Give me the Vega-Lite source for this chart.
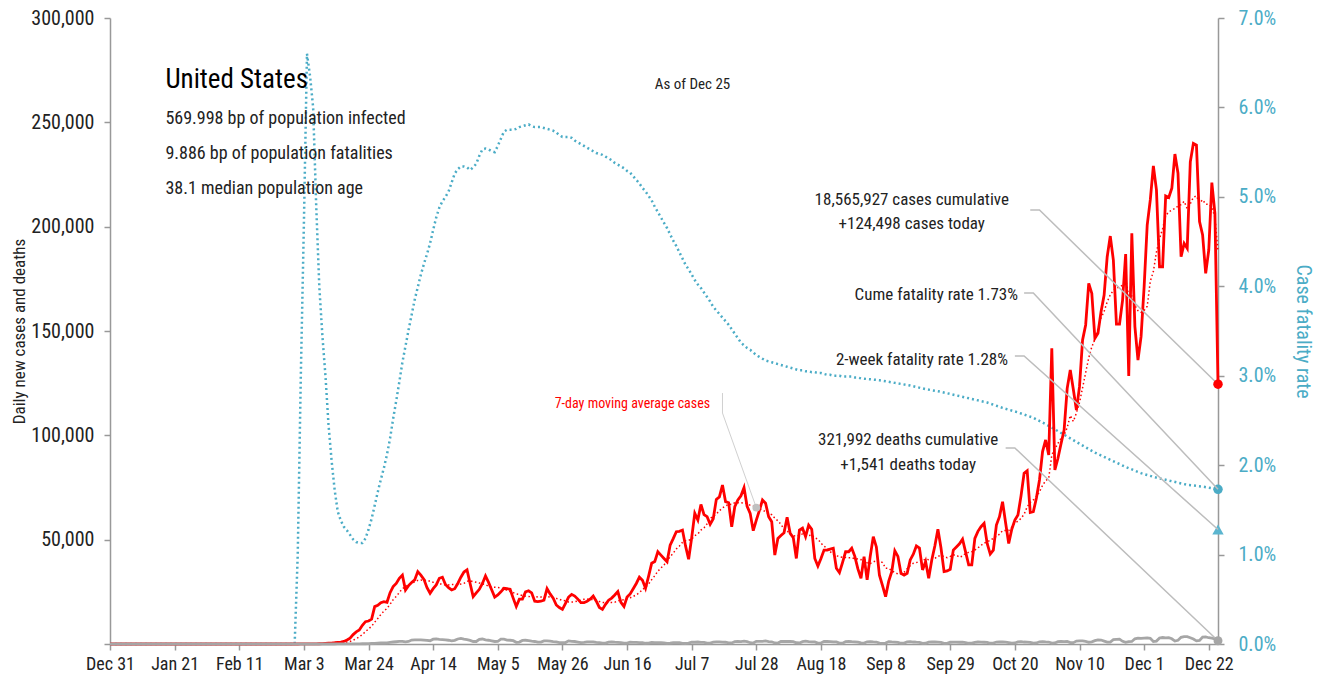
{
"$schema":"https://vega.github.io/schema/vega-lite/v6.json",
"width":1108,"height":626,
"autosize":{"type":"none"},
"padding":{"left":110,"top":18,"right":105,"bottom":38},
"background":"white",
"config":{"view":{"stroke":null},"font":"Roboto Condensed, Liberation Sans Narrow, DejaVu Sans Condensed, sans-serif","axis":{"grid":false}},
"datasets":{
"daily":[
{"date":"2019-12-31","cases":0,"avg":0,"deaths":0},
{"date":"2020-01-21","cases":0,"avg":0,"deaths":0},
{"date":"2020-02-11","cases":0,"avg":0,"deaths":0},
{"date":"2020-02-29","cases":0,"avg":0,"deaths":0},
{"date":"2020-03-01","cases":10,"avg":1,"deaths":0},
{"date":"2020-03-02","cases":20,"avg":4,"deaths":1},
{"date":"2020-03-03","cases":25,"avg":8,"deaths":2},
{"date":"2020-03-04","cases":35,"avg":13,"deaths":2},
{"date":"2020-03-05","cases":60,"avg":21,"deaths":3},
{"date":"2020-03-06","cases":70,"avg":31,"deaths":4},
{"date":"2020-03-07","cases":100,"avg":46,"deaths":2},
{"date":"2020-03-08","cases":120,"avg":61,"deaths":3},
{"date":"2020-03-09","cases":150,"avg":80,"deaths":5},
{"date":"2020-03-10","cases":270,"avg":115,"deaths":8},
{"date":"2020-03-11","cases":400,"avg":167,"deaths":8},
{"date":"2020-03-12","cases":450,"avg":223,"deaths":10},
{"date":"2020-03-13","cases":600,"avg":299,"deaths":12},
{"date":"2020-03-14","cases":800,"avg":399,"deaths":15},
{"date":"2020-03-15","cases":900,"avg":510,"deaths":15},
{"date":"2020-03-16","cases":1200,"avg":660,"deaths":20},
{"date":"2020-03-17","cases":1900,"avg":893,"deaths":25},
{"date":"2020-03-18","cases":2800,"avg":1236,"deaths":40},
{"date":"2020-03-19","cases":4500,"avg":1814,"deaths":60},
{"date":"2020-03-20","cases":5800,"avg":2557,"deaths":50},
{"date":"2020-03-21","cases":6700,"avg":3400,"deaths":60},
{"date":"2020-03-22","cases":9000,"avg":4557,"deaths":120},
{"date":"2020-03-23","cases":10700,"avg":5914,"deaths":130},
{"date":"2020-03-24","cases":11000,"avg":7214,"deaths":190},
{"date":"2020-03-25","cases":11900,"avg":8514,"deaths":250},
{"date":"2020-03-26","cases":17900,"avg":10429,"deaths":270},
{"date":"2020-03-27","cases":18500,"avg":12243,"deaths":400},
{"date":"2020-03-28","cases":19800,"avg":14114,"deaths":520},
{"date":"2020-03-29","cases":20300,"avg":15729,"deaths":480},
{"date":"2020-03-30","cases":20000,"avg":17057,"deaths":560},
{"date":"2020-03-31","cases":24600,"avg":19000,"deaths":790},
{"date":"2020-04-01","cases":27500,"avg":21229,"deaths":960},
{"date":"2020-04-02","cases":29000,"avg":22814,"deaths":1080},
{"date":"2020-04-03","cases":31500,"avg":24671,"deaths":1220},
{"date":"2020-04-04","cases":33000,"avg":26557,"deaths":1290},
{"date":"2020-04-05","cases":25900,"avg":27357,"deaths":1050},
{"date":"2020-04-06","cases":28000,"avg":28500,"deaths":1210},
{"date":"2020-04-07","cases":29500,"avg":29200,"deaths":1900},
{"date":"2020-04-08","cases":30700,"avg":29657,"deaths":1940},
{"date":"2020-04-09","cases":34700,"avg":30471,"deaths":2000},
{"date":"2020-04-10","cases":33000,"avg":30686,"deaths":2000},
{"date":"2020-04-11","cases":31000,"avg":30400,"deaths":1850},
{"date":"2020-04-12","cases":27000,"avg":30557,"deaths":1700},
{"date":"2020-04-13","cases":24300,"avg":30029,"deaths":1550},
{"date":"2020-04-14","cases":26500,"avg":29600,"deaths":2300},
{"date":"2020-04-15","cases":28300,"avg":29257,"deaths":2450},
{"date":"2020-04-16","cases":31500,"avg":28800,"deaths":2200},
{"date":"2020-04-17","cases":32000,"avg":28657,"deaths":2100},
{"date":"2020-04-18","cases":28500,"avg":28300,"deaths":2000},
{"date":"2020-04-19","cases":27000,"avg":28300,"deaths":1800},
{"date":"2020-04-20","cases":25900,"avg":28529,"deaths":1550},
{"date":"2020-04-21","cases":26500,"avg":28529,"deaths":1750},
{"date":"2020-04-22","cases":29000,"avg":28629,"deaths":2400},
{"date":"2020-04-23","cases":32000,"avg":28700,"deaths":2700},
{"date":"2020-04-24","cases":34500,"avg":29057,"deaths":2300},
{"date":"2020-04-25","cases":35500,"avg":30057,"deaths":2100},
{"date":"2020-04-26","cases":29000,"avg":30343,"deaths":1750},
{"date":"2020-04-27","cases":22700,"avg":29886,"deaths":1200},
{"date":"2020-04-28","cases":24500,"avg":29600,"deaths":1200},
{"date":"2020-04-29","cases":26200,"avg":29200,"deaths":2200},
{"date":"2020-04-30","cases":29000,"avg":28771,"deaths":2400},
{"date":"2020-05-01","cases":32600,"avg":28500,"deaths":2000},
{"date":"2020-05-02","cases":29500,"avg":27643,"deaths":1800},
{"date":"2020-05-03","cases":26000,"avg":27214,"deaths":1500},
{"date":"2020-05-04","cases":22500,"avg":27186,"deaths":1200},
{"date":"2020-05-05","cases":23500,"avg":27043,"deaths":1300},
{"date":"2020-05-06","cases":25000,"avg":26871,"deaths":2300},
{"date":"2020-05-07","cases":26700,"avg":26543,"deaths":2300},
{"date":"2020-05-08","cases":26500,"avg":25671,"deaths":1900},
{"date":"2020-05-09","cases":26200,"avg":25200,"deaths":1800},
{"date":"2020-05-10","cases":22000,"avg":24629,"deaths":1600},
{"date":"2020-05-11","cases":18000,"avg":23986,"deaths":800},
{"date":"2020-05-12","cases":21500,"avg":23700,"deaths":950},
{"date":"2020-05-13","cases":21500,"avg":23200,"deaths":1700},
{"date":"2020-05-14","cases":25000,"avg":22957,"deaths":1800},
{"date":"2020-05-15","cases":25500,"avg":22814,"deaths":1650},
{"date":"2020-05-16","cases":24500,"avg":22571,"deaths":1400},
{"date":"2020-05-17","cases":20500,"avg":22357,"deaths":1200},
{"date":"2020-05-18","cases":20300,"avg":22686,"deaths":900},
{"date":"2020-05-19","cases":20500,"avg":22543,"deaths":900},
{"date":"2020-05-20","cases":21000,"avg":22471,"deaths":1500},
{"date":"2020-05-21","cases":26500,"avg":22686,"deaths":1500},
{"date":"2020-05-22","cases":24000,"avg":22471,"deaths":1350},
{"date":"2020-05-23","cases":22000,"avg":22114,"deaths":1150},
{"date":"2020-05-24","cases":18700,"avg":21857,"deaths":1050},
{"date":"2020-05-25","cases":17500,"avg":21457,"deaths":700},
{"date":"2020-05-26","cases":16600,"avg":20900,"deaths":600},
{"date":"2020-05-27","cases":19500,"avg":20686,"deaths":700},
{"date":"2020-05-28","cases":22500,"avg":20114,"deaths":1500},
{"date":"2020-05-29","cases":23800,"avg":20086,"deaths":1250},
{"date":"2020-05-30","cases":23000,"avg":20229,"deaths":1200},
{"date":"2020-05-31","cases":21500,"avg":20629,"deaths":950},
{"date":"2020-06-01","cases":19800,"avg":20957,"deaths":700},
{"date":"2020-06-02","cases":19800,"avg":21414,"deaths":800},
{"date":"2020-06-03","cases":20500,"avg":21557,"deaths":1000},
{"date":"2020-06-04","cases":21500,"avg":21414,"deaths":1050},
{"date":"2020-06-05","cases":23000,"avg":21300,"deaths":1000},
{"date":"2020-06-06","cases":20500,"avg":20943,"deaths":800},
{"date":"2020-06-07","cases":17500,"avg":20371,"deaths":700},
{"date":"2020-06-08","cases":16600,"avg":19914,"deaths":400},
{"date":"2020-06-09","cases":19000,"avg":19800,"deaths":450},
{"date":"2020-06-10","cases":21000,"avg":19871,"deaths":900},
{"date":"2020-06-11","cases":22000,"avg":19943,"deaths":1000},
{"date":"2020-06-12","cases":23500,"avg":20014,"deaths":850},
{"date":"2020-06-13","cases":25100,"avg":20671,"deaths":750},
{"date":"2020-06-14","cases":20000,"avg":21029,"deaths":650},
{"date":"2020-06-15","cases":18000,"avg":21229,"deaths":400},
{"date":"2020-06-16","cases":22500,"avg":21729,"deaths":450},
{"date":"2020-06-17","cases":24000,"avg":22157,"deaths":850},
{"date":"2020-06-18","cases":26500,"avg":22800,"deaths":800},
{"date":"2020-06-19","cases":29000,"avg":23586,"deaths":750},
{"date":"2020-06-20","cases":32000,"avg":24571,"deaths":650},
{"date":"2020-06-21","cases":30500,"avg":26071,"deaths":600},
{"date":"2020-06-22","cases":26700,"avg":27314,"deaths":350},
{"date":"2020-06-23","cases":32500,"avg":28743,"deaths":450},
{"date":"2020-06-24","cases":38700,"avg":30843,"deaths":800},
{"date":"2020-06-25","cases":39500,"avg":32700,"deaths":700},
{"date":"2020-06-26","cases":44200,"avg":34871,"deaths":650},
{"date":"2020-06-27","cases":42600,"avg":36386,"deaths":600},
{"date":"2020-06-28","cases":41000,"avg":37886,"deaths":500},
{"date":"2020-06-29","cases":39400,"avg":39700,"deaths":300},
{"date":"2020-06-30","cases":47400,"avg":41829,"deaths":400},
{"date":"2020-07-01","cases":50500,"avg":43514,"deaths":700},
{"date":"2020-07-02","cases":53800,"avg":45557,"deaths":700},
{"date":"2020-07-03","cases":54000,"avg":46957,"deaths":650},
{"date":"2020-07-04","cases":54600,"avg":48671,"deaths":300},
{"date":"2020-07-05","cases":47000,"avg":49529,"deaths":250},
{"date":"2020-07-06","cases":40600,"avg":49700,"deaths":400},
{"date":"2020-07-07","cases":51000,"avg":50214,"deaths":900},
{"date":"2020-07-08","cases":62600,"avg":51943,"deaths":850},
{"date":"2020-07-09","cases":59400,"avg":52743,"deaths":950},
{"date":"2020-07-10","cases":66900,"avg":54586,"deaths":800},
{"date":"2020-07-11","cases":62000,"avg":55643,"deaths":750},
{"date":"2020-07-12","cases":61000,"avg":57643,"deaths":450},
{"date":"2020-07-13","cases":57400,"avg":60043,"deaths":450},
{"date":"2020-07-14","cases":60000,"avg":61329,"deaths":900},
{"date":"2020-07-15","cases":69300,"avg":62286,"deaths":1000},
{"date":"2020-07-16","cases":70500,"avg":63871,"deaths":1000},
{"date":"2020-07-17","cases":76200,"avg":65200,"deaths":900},
{"date":"2020-07-18","cases":68200,"avg":66086,"deaths":850},
{"date":"2020-07-19","cases":67700,"avg":67043,"deaths":550},
{"date":"2020-07-20","cases":56200,"avg":66871,"deaths":500},
{"date":"2020-07-21","cases":65800,"avg":67700,"deaths":1100},
{"date":"2020-07-22","cases":69000,"avg":67657,"deaths":1200},
{"date":"2020-07-23","cases":71000,"avg":67729,"deaths":1150},
{"date":"2020-07-24","cases":74900,"avg":67543,"deaths":1350},
{"date":"2020-07-25","cases":66000,"avg":67229,"deaths":1100},
{"date":"2020-07-26","cases":62600,"avg":66500,"deaths":600},
{"date":"2020-07-27","cases":54300,"avg":66229,"deaths":450},
{"date":"2020-07-28","cases":59400,"avg":65314,"deaths":1300},
{"date":"2020-07-29","cases":64000,"avg":64600,"deaths":1300},
{"date":"2020-07-30","cases":69000,"avg":64314,"deaths":1250},
{"date":"2020-07-31","cases":67500,"avg":63257,"deaths":1450},
{"date":"2020-08-01","cases":61000,"avg":62543,"deaths":1150},
{"date":"2020-08-02","cases":58600,"avg":61971,"deaths":1050},
{"date":"2020-08-03","cases":42600,"avg":60300,"deaths":500},
{"date":"2020-08-04","cases":50600,"avg":59043,"deaths":450},
{"date":"2020-08-05","cases":52000,"avg":57329,"deaths":1200},
{"date":"2020-08-06","cases":53300,"avg":55086,"deaths":1300},
{"date":"2020-08-07","cases":60700,"avg":54114,"deaths":1200},
{"date":"2020-08-08","cases":53000,"avg":52971,"deaths":1250},
{"date":"2020-08-09","cases":51000,"avg":51886,"deaths":1100},
{"date":"2020-08-10","cases":41000,"avg":51657,"deaths":600},
{"date":"2020-08-11","cases":54600,"avg":52229,"deaths":500},
{"date":"2020-08-12","cases":55500,"avg":52729,"deaths":1100},
{"date":"2020-08-13","cases":51500,"avg":52471,"deaths":1350},
{"date":"2020-08-14","cases":57000,"avg":51943,"deaths":1100},
{"date":"2020-08-15","cases":55000,"avg":52229,"deaths":1050},
{"date":"2020-08-16","cases":41000,"avg":50800,"deaths":1000},
{"date":"2020-08-17","cases":37400,"avg":50286,"deaths":450},
{"date":"2020-08-18","cases":41000,"avg":48343,"deaths":500},
{"date":"2020-08-19","cases":45000,"avg":46843,"deaths":1200},
{"date":"2020-08-20","cases":45000,"avg":45914,"deaths":1250},
{"date":"2020-08-21","cases":45500,"avg":44271,"deaths":1150},
{"date":"2020-08-22","cases":45900,"avg":42971,"deaths":1050},
{"date":"2020-08-23","cases":36300,"avg":42300,"deaths":1000},
{"date":"2020-08-24","cases":34200,"avg":41843,"deaths":450},
{"date":"2020-08-25","cases":39000,"avg":41557,"deaths":400},
{"date":"2020-08-26","cases":44200,"avg":41443,"deaths":1100},
{"date":"2020-08-27","cases":44200,"avg":41329,"deaths":1250},
{"date":"2020-08-28","cases":45900,"avg":41386,"deaths":1100},
{"date":"2020-08-29","cases":42000,"avg":40829,"deaths":1000},
{"date":"2020-08-30","cases":36000,"avg":40786,"deaths":900},
{"date":"2020-08-31","cases":31500,"avg":40400,"deaths":500},
{"date":"2020-09-01","cases":41800,"avg":40800,"deaths":450},
{"date":"2020-09-02","cases":30700,"avg":38871,"deaths":1050},
{"date":"2020-09-03","cases":42000,"avg":38557,"deaths":1100},
{"date":"2020-09-04","cases":51400,"avg":39343,"deaths":1000},
{"date":"2020-09-05","cases":46500,"avg":39986,"deaths":950},
{"date":"2020-09-06","cases":33000,"avg":39557,"deaths":400},
{"date":"2020-09-07","cases":28000,"avg":39057,"deaths":300},
{"date":"2020-09-08","cases":22700,"avg":36329,"deaths":450},
{"date":"2020-09-09","cases":30000,"avg":36229,"deaths":1150},
{"date":"2020-09-10","cases":34700,"avg":35186,"deaths":1000},
{"date":"2020-09-11","cases":44700,"avg":34229,"deaths":900},
{"date":"2020-09-12","cases":42000,"avg":33586,"deaths":750},
{"date":"2020-09-13","cases":33900,"avg":33714,"deaths":350},
{"date":"2020-09-14","cases":33000,"avg":34429,"deaths":450},
{"date":"2020-09-15","cases":33900,"avg":36029,"deaths":1000},
{"date":"2020-09-16","cases":40300,"avg":37500,"deaths":1100},
{"date":"2020-09-17","cases":43000,"avg":38686,"deaths":950},
{"date":"2020-09-18","cases":47000,"avg":39014,"deaths":850},
{"date":"2020-09-19","cases":46000,"avg":39586,"deaths":800},
{"date":"2020-09-20","cases":35500,"avg":39814,"deaths":300},
{"date":"2020-09-21","cases":39500,"avg":40743,"deaths":350},
{"date":"2020-09-22","cases":31500,"avg":40400,"deaths":900},
{"date":"2020-09-23","cases":40300,"avg":40400,"deaths":1000},
{"date":"2020-09-24","cases":47000,"avg":40971,"deaths":950},
{"date":"2020-09-25","cases":55000,"avg":42114,"deaths":900},
{"date":"2020-09-26","cases":46000,"avg":42114,"deaths":750},
{"date":"2020-09-27","cases":34700,"avg":42000,"deaths":300},
{"date":"2020-09-28","cases":35000,"avg":41357,"deaths":300},
{"date":"2020-09-29","cases":35800,"avg":41971,"deaths":850},
{"date":"2020-09-30","cases":45000,"avg":42643,"deaths":900},
{"date":"2020-10-01","cases":46500,"avg":42571,"deaths":900},
{"date":"2020-10-02","cases":48000,"avg":41571,"deaths":850},
{"date":"2020-10-03","cases":50200,"avg":42171,"deaths":850},
{"date":"2020-10-04","cases":44000,"avg":43500,"deaths":700},
{"date":"2020-10-05","cases":37900,"avg":43914,"deaths":350},
{"date":"2020-10-06","cases":37900,"avg":44214,"deaths":400},
{"date":"2020-10-07","cases":50600,"avg":45014,"deaths":800},
{"date":"2020-10-08","cases":54000,"avg":46086,"deaths":950},
{"date":"2020-10-09","cases":56200,"avg":47257,"deaths":900},
{"date":"2020-10-10","cases":57800,"avg":48343,"deaths":850},
{"date":"2020-10-11","cases":48200,"avg":48943,"deaths":750},
{"date":"2020-10-12","cases":43100,"avg":49686,"deaths":350},
{"date":"2020-10-13","cases":45000,"avg":50700,"deaths":450},
{"date":"2020-10-14","cases":57000,"avg":51614,"deaths":950},
{"date":"2020-10-15","cases":61000,"avg":52614,"deaths":1000},
{"date":"2020-10-16","cases":68200,"avg":54329,"deaths":950},
{"date":"2020-10-17","cases":58000,"avg":54357,"deaths":850},
{"date":"2020-10-18","cases":48200,"avg":54357,"deaths":650},
{"date":"2020-10-19","cases":55000,"avg":56057,"deaths":450},
{"date":"2020-10-20","cases":59400,"avg":58114,"deaths":500},
{"date":"2020-10-21","cases":61800,"avg":58800,"deaths":1000},
{"date":"2020-10-22","cases":71000,"avg":60229,"deaths":1100},
{"date":"2020-10-23","cases":81800,"avg":62171,"deaths":950},
{"date":"2020-10-24","cases":83000,"avg":65743,"deaths":900},
{"date":"2020-10-25","cases":63000,"avg":67857,"deaths":800},
{"date":"2020-10-26","cases":63400,"avg":69057,"deaths":400},
{"date":"2020-10-27","cases":70000,"avg":70571,"deaths":500},
{"date":"2020-10-28","cases":78600,"avg":72971,"deaths":1050},
{"date":"2020-10-29","cases":92200,"avg":76000,"deaths":1100},
{"date":"2020-10-30","cases":97800,"avg":78286,"deaths":1000},
{"date":"2020-10-31","cases":90600,"avg":79371,"deaths":950},
{"date":"2020-11-01","cases":141700,"avg":90614,"deaths":450},
{"date":"2020-11-02","cases":83400,"avg":93471,"deaths":500},
{"date":"2020-11-03","cases":89000,"avg":96186,"deaths":1150},
{"date":"2020-11-04","cases":96000,"avg":98671,"deaths":1200},
{"date":"2020-11-05","cases":102500,"avg":100143,"deaths":1150},
{"date":"2020-11-06","cases":122500,"avg":103671,"deaths":1250},
{"date":"2020-11-07","cases":131300,"avg":109486,"deaths":700},
{"date":"2020-11-08","cases":122000,"avg":106671,"deaths":650},
{"date":"2020-11-09","cases":112100,"avg":110771,"deaths":1400},
{"date":"2020-11-10","cases":123300,"avg":115671,"deaths":1450},
{"date":"2020-11-11","cases":145700,"avg":122771,"deaths":1450},
{"date":"2020-11-12","cases":152900,"avg":129971,"deaths":1300},
{"date":"2020-11-13","cases":172800,"avg":137157,"deaths":850},
{"date":"2020-11-14","cases":168000,"avg":142400,"deaths":1000},
{"date":"2020-11-15","cases":146500,"avg":145900,"deaths":1600},
{"date":"2020-11-16","cases":148900,"avg":151157,"deaths":2000},
{"date":"2020-11-17","cases":159200,"avg":156286,"deaths":1900},
{"date":"2020-11-18","cases":167200,"avg":159357,"deaths":1400},
{"date":"2020-11-19","cases":185600,"avg":164029,"deaths":900},
{"date":"2020-11-20","cases":195500,"avg":167271,"deaths":950},
{"date":"2020-11-21","cases":184000,"avg":169557,"deaths":2100},
{"date":"2020-11-22","cases":153300,"avg":170529,"deaths":2200},
{"date":"2020-11-23","cases":153300,"avg":171157,"deaths":2300},
{"date":"2020-11-24","cases":164800,"avg":171957,"deaths":1300},
{"date":"2020-11-25","cases":186900,"avg":174771,"deaths":800},
{"date":"2020-11-26","cases":128400,"avg":166600,"deaths":1100},
{"date":"2020-11-27","cases":196800,"avg":166786,"deaths":1200},
{"date":"2020-11-28","cases":152100,"avg":162229,"deaths":2500},
{"date":"2020-11-29","cases":136100,"avg":159771,"deaths":2800},
{"date":"2020-11-30","cases":147300,"avg":158914,"deaths":2700},
{"date":"2020-12-01","cases":171200,"avg":159829,"deaths":2800},
{"date":"2020-12-02","cases":200800,"avg":161814,"deaths":2900},
{"date":"2020-12-03","cases":212800,"avg":173871,"deaths":2700},
{"date":"2020-12-04","cases":229100,"avg":178486,"deaths":1200},
{"date":"2020-12-05","cases":217600,"avg":187843,"deaths":1400},
{"date":"2020-12-06","cases":180800,"avg":194229,"deaths":2900},
{"date":"2020-12-07","cases":180800,"avg":199014,"deaths":3100},
{"date":"2020-12-08","cases":214700,"avg":205229,"deaths":2900},
{"date":"2020-12-09","cases":214000,"avg":207114,"deaths":3000},
{"date":"2020-12-10","cases":218400,"avg":207914,"deaths":2500},
{"date":"2020-12-11","cases":234800,"avg":208729,"deaths":1400},
{"date":"2020-12-12","cases":225600,"avg":209871,"deaths":1800},
{"date":"2020-12-13","cases":185600,"avg":210557,"deaths":3200},
{"date":"2020-12-14","cases":192000,"avg":212157,"deaths":3500},
{"date":"2020-12-15","cases":189600,"avg":208571,"deaths":3500},
{"date":"2020-12-16","cases":231100,"avg":211014,"deaths":3000},
{"date":"2020-12-17","cases":239900,"avg":214086,"deaths":2400},
{"date":"2020-12-18","cases":239100,"avg":214700,"deaths":1500},
{"date":"2020-12-19","cases":202400,"avg":211386,"deaths":1700},
{"date":"2020-12-20","cases":196000,"avg":212871,"deaths":3300},
{"date":"2020-12-21","cases":177600,"avg":210814,"deaths":3400},
{"date":"2020-12-22","cases":188800,"avg":210700,"deaths":3000},
{"date":"2020-12-23","cases":221100,"avg":209271,"deaths":2800},
{"date":"2020-12-24","cases":206400,"avg":204486,"deaths":2500},
{"date":"2020-12-25","cases":124498,"avg":188114,"deaths":1541}
],
"cfr":[
{"date":"2019-12-31","rate":0},{"date":"2020-02-29","rate":0},
{"date":"2020-03-01","rate":0.010},{"date":"2020-03-02","rate":0.030},{"date":"2020-03-03","rate":0.047},{"date":"2020-03-04","rate":0.066},{"date":"2020-03-05","rate":0.0635},{"date":"2020-03-06","rate":0.060},{"date":"2020-03-07","rate":0.049},{"date":"2020-03-08","rate":0.040},{"date":"2020-03-09","rate":0.0345},{"date":"2020-03-10","rate":0.030},
{"date":"2020-03-11","rate":0.0245},{"date":"2020-03-12","rate":0.0205},{"date":"2020-03-13","rate":0.0172},{"date":"2020-03-14","rate":0.0148},{"date":"2020-03-15","rate":0.0138},{"date":"2020-03-16","rate":0.0131},{"date":"2020-03-17","rate":0.0127},{"date":"2020-03-18","rate":0.0122},{"date":"2020-03-19","rate":0.0117},{"date":"2020-03-20","rate":0.0114},
{"date":"2020-03-21","rate":0.0113},{"date":"2020-03-22","rate":0.0113},{"date":"2020-03-23","rate":0.0118},{"date":"2020-03-24","rate":0.0128},{"date":"2020-03-25","rate":0.0140},{"date":"2020-03-26","rate":0.0155},{"date":"2020-03-27","rate":0.0170},{"date":"2020-03-28","rate":0.0184},{"date":"2020-03-29","rate":0.0197},{"date":"2020-03-30","rate":0.0212},{"date":"2020-03-31","rate":0.0230},
{"date":"2020-04-01","rate":0.0252},{"date":"2020-04-02","rate":0.0272},{"date":"2020-04-03","rate":0.0293},{"date":"2020-04-04","rate":0.0315},{"date":"2020-04-05","rate":0.0333},{"date":"2020-04-06","rate":0.0351},{"date":"2020-04-07","rate":0.0368},{"date":"2020-04-08","rate":0.0385},{"date":"2020-04-09","rate":0.0399},{"date":"2020-04-10","rate":0.0413},
{"date":"2020-04-11","rate":0.0425},{"date":"2020-04-12","rate":0.0436},{"date":"2020-04-13","rate":0.0448},{"date":"2020-04-14","rate":0.0463},{"date":"2020-04-15","rate":0.0477},{"date":"2020-04-16","rate":0.0488},{"date":"2020-04-17","rate":0.0495},{"date":"2020-04-18","rate":0.0500},{"date":"2020-04-19","rate":0.0506},{"date":"2020-04-20","rate":0.0516},
{"date":"2020-04-21","rate":0.0526},{"date":"2020-04-22","rate":0.0531},{"date":"2020-04-23","rate":0.0534},{"date":"2020-04-24","rate":0.0534},{"date":"2020-04-25","rate":0.0533},{"date":"2020-04-26","rate":0.0530},{"date":"2020-04-27","rate":0.0533},{"date":"2020-04-28","rate":0.0537},{"date":"2020-04-29","rate":0.0546},{"date":"2020-04-30","rate":0.0553},
{"date":"2020-05-01","rate":0.0554},{"date":"2020-05-02","rate":0.0553},{"date":"2020-05-03","rate":0.0551},{"date":"2020-05-04","rate":0.0550},{"date":"2020-05-05","rate":0.0557},{"date":"2020-05-06","rate":0.0565},{"date":"2020-05-07","rate":0.0573},{"date":"2020-05-08","rate":0.0575},{"date":"2020-05-09","rate":0.0575},{"date":"2020-05-10","rate":0.0575},
{"date":"2020-05-11","rate":0.0576},{"date":"2020-05-12","rate":0.0578},{"date":"2020-05-13","rate":0.0579},{"date":"2020-05-14","rate":0.0580},{"date":"2020-05-15","rate":0.0581},{"date":"2020-05-16","rate":0.0579},{"date":"2020-05-17","rate":0.0578},{"date":"2020-05-18","rate":0.0578},{"date":"2020-05-19","rate":0.0578},{"date":"2020-05-20","rate":0.0577},
{"date":"2020-05-21","rate":0.0576},{"date":"2020-05-22","rate":0.0575},{"date":"2020-05-23","rate":0.0574},{"date":"2020-05-24","rate":0.0572},{"date":"2020-05-25","rate":0.0569},{"date":"2020-05-26","rate":0.0567},{"date":"2020-05-27","rate":0.0567},{"date":"2020-05-28","rate":0.0567},{"date":"2020-05-29","rate":0.0566},{"date":"2020-05-30","rate":0.0563},{"date":"2020-05-31","rate":0.0561},
{"date":"2020-06-01","rate":0.0559},{"date":"2020-06-02","rate":0.0557},{"date":"2020-06-03","rate":0.0555},{"date":"2020-06-04","rate":0.0553},{"date":"2020-06-05","rate":0.0551},{"date":"2020-06-06","rate":0.0549},{"date":"2020-06-07","rate":0.0548},{"date":"2020-06-08","rate":0.0547},{"date":"2020-06-09","rate":0.0545},{"date":"2020-06-10","rate":0.0543},
{"date":"2020-06-11","rate":0.0541},{"date":"2020-06-12","rate":0.0538},{"date":"2020-06-13","rate":0.0536},{"date":"2020-06-14","rate":0.0534},{"date":"2020-06-15","rate":0.0532},{"date":"2020-06-16","rate":0.0529},{"date":"2020-06-17","rate":0.0527},{"date":"2020-06-18","rate":0.0523},{"date":"2020-06-19","rate":0.0519},{"date":"2020-06-20","rate":0.0515},
{"date":"2020-06-21","rate":0.0510},{"date":"2020-06-22","rate":0.0506},{"date":"2020-06-23","rate":0.0501},{"date":"2020-06-24","rate":0.0496},{"date":"2020-06-25","rate":0.0489},{"date":"2020-06-26","rate":0.0483},{"date":"2020-06-27","rate":0.0477},{"date":"2020-06-28","rate":0.0471},{"date":"2020-06-29","rate":0.0465},{"date":"2020-06-30","rate":0.0458},
{"date":"2020-07-01","rate":0.0451},{"date":"2020-07-02","rate":0.0445},{"date":"2020-07-03","rate":0.0438},{"date":"2020-07-04","rate":0.0431},{"date":"2020-07-05","rate":0.0424},{"date":"2020-07-06","rate":0.0419},{"date":"2020-07-07","rate":0.0413},{"date":"2020-07-08","rate":0.0407},{"date":"2020-07-09","rate":0.0402},{"date":"2020-07-10","rate":0.0398},
{"date":"2020-07-11","rate":0.0393},{"date":"2020-07-12","rate":0.0388},{"date":"2020-07-13","rate":0.0383},{"date":"2020-07-14","rate":0.0377},{"date":"2020-07-15","rate":0.0373},{"date":"2020-07-16","rate":0.0369},{"date":"2020-07-17","rate":0.0365},{"date":"2020-07-18","rate":0.0361},{"date":"2020-07-19","rate":0.0357},{"date":"2020-07-20","rate":0.0352},
{"date":"2020-07-21","rate":0.0347},{"date":"2020-07-22","rate":0.0342},{"date":"2020-07-23","rate":0.0337},{"date":"2020-07-24","rate":0.0334},{"date":"2020-07-25","rate":0.0331},{"date":"2020-07-26","rate":0.0329},{"date":"2020-07-27","rate":0.0326},{"date":"2020-07-28","rate":0.0323},{"date":"2020-07-29","rate":0.0321},{"date":"2020-07-30","rate":0.0319},{"date":"2020-07-31","rate":0.0317},
{"date":"2020-08-01","rate":0.0316},{"date":"2020-08-02","rate":0.0315},{"date":"2020-08-03","rate":0.0314},{"date":"2020-08-04","rate":0.0313},{"date":"2020-08-05","rate":0.0312},{"date":"2020-08-06","rate":0.0311},{"date":"2020-08-07","rate":0.0310},{"date":"2020-08-08","rate":0.0309},{"date":"2020-08-09","rate":0.0308},{"date":"2020-08-10","rate":0.0307},
{"date":"2020-08-11","rate":0.0306},{"date":"2020-08-12","rate":0.0306},{"date":"2020-08-13","rate":0.0305},{"date":"2020-08-14","rate":0.0305},{"date":"2020-08-15","rate":0.0304},{"date":"2020-08-16","rate":0.0304},{"date":"2020-08-17","rate":0.0303},{"date":"2020-08-18","rate":0.0303},{"date":"2020-08-19","rate":0.0302},{"date":"2020-08-20","rate":0.0301},
{"date":"2020-08-21","rate":0.0301},{"date":"2020-08-22","rate":0.0300},{"date":"2020-08-23","rate":0.0300},{"date":"2020-08-24","rate":0.0300},{"date":"2020-08-25","rate":0.0299},{"date":"2020-08-26","rate":0.0299},{"date":"2020-08-27","rate":0.0299},{"date":"2020-08-28","rate":0.0299},{"date":"2020-08-29","rate":0.0298},{"date":"2020-08-30","rate":0.0298},{"date":"2020-08-31","rate":0.0297},
{"date":"2020-09-06","rate":0.0295},{"date":"2020-09-11","rate":0.0292},{"date":"2020-09-16","rate":0.0289},{"date":"2020-09-21","rate":0.0285},{"date":"2020-09-26","rate":0.0282},
{"date":"2020-10-01","rate":0.0278},{"date":"2020-10-06","rate":0.0274},{"date":"2020-10-11","rate":0.0270},{"date":"2020-10-16","rate":0.0264},{"date":"2020-10-21","rate":0.0259},{"date":"2020-10-26","rate":0.0253},{"date":"2020-10-31","rate":0.0244},
{"date":"2020-11-05","rate":0.0234},{"date":"2020-11-10","rate":0.0224},{"date":"2020-11-15","rate":0.0214},{"date":"2020-11-20","rate":0.0206},{"date":"2020-11-25","rate":0.0198},{"date":"2020-11-30","rate":0.0191},
{"date":"2020-12-05","rate":0.0186},{"date":"2020-12-10","rate":0.0182},{"date":"2020-12-15","rate":0.0178},{"date":"2020-12-20","rate":0.0176},{"date":"2020-12-25","rate":0.0173}
],
"leaders":[
{"id":"cases","order":1,"date":"2020-10-25","value":207973},
{"id":"cases","order":2,"date":"2020-10-28","value":207973},
{"id":"cases","order":3,"date":"2020-12-25","value":124498},
{"id":"cume","order":1,"date":"2020-10-23","value":168200},
{"id":"cume","order":2,"date":"2020-10-26","value":168200},
{"id":"cume","order":3,"date":"2020-12-25","value":74143},
{"id":"twoweek","order":1,"date":"2020-10-20","value":138010},
{"id":"twoweek","order":2,"date":"2020-10-23","value":138010},
{"id":"twoweek","order":3,"date":"2020-12-25","value":54857},
{"id":"deaths","order":1,"date":"2020-10-17","value":93923},
{"id":"deaths","order":2,"date":"2020-10-20","value":93923},
{"id":"deaths","order":3,"date":"2020-12-25","value":1541}
]
},
"encoding":{
"x":{"field":"date","type":"temporal",
"scale":{"type":"utc","domain":[{"year":2019,"month":12,"date":31,"utc":true},{"year":2020,"month":12,"date":25,"utc":true}]},
"axis":{"title":null,"labelExpr":"utcFormat(datum.value, '%b %-d')",
"values":[{"year":2019,"month":12,"date":31,"utc":true},{"year":2020,"month":1,"date":21,"utc":true},{"year":2020,"month":2,"date":11,"utc":true},{"year":2020,"month":3,"date":3,"utc":true},{"year":2020,"month":3,"date":24,"utc":true},{"year":2020,"month":4,"date":14,"utc":true},{"year":2020,"month":5,"date":5,"utc":true},{"year":2020,"month":5,"date":26,"utc":true},{"year":2020,"month":6,"date":16,"utc":true},{"year":2020,"month":7,"date":7,"utc":true},{"year":2020,"month":7,"date":28,"utc":true},{"year":2020,"month":8,"date":18,"utc":true},{"year":2020,"month":9,"date":8,"utc":true},{"year":2020,"month":9,"date":29,"utc":true},{"year":2020,"month":10,"date":20,"utc":true},{"year":2020,"month":11,"date":10,"utc":true},{"year":2020,"month":12,"date":1,"utc":true},{"year":2020,"month":12,"date":22,"utc":true}],
"labelFontSize":18,"labelColor":"#222","labelPadding":5,"labelOverlap":false,"labelFlush":false,
"tickColor":"#999","tickSize":6,"tickWidth":1.5,"domainColor":"#999","domainWidth":1.5}}
},
"layer":[
{"data":{"name":"cfr"},"mark":{"type":"line","color":"#4bacc6","strokeWidth":2.5,"strokeDash":[2,3]},
"encoding":{"y":{"field":"rate","type":"quantitative","scale":{"domain":[0,0.07],"nice":false},
"axis":{"orient":"right","title":"Case fatality rate","format":".1%","values":[0,0.01,0.02,0.03,0.04,0.05,0.06,0.07],
"labelColor":"#4bacc6","labelFontSize":20,"labelPadding":14,"titleColor":"#4bacc6","titleFontSize":20,"titleFontWeight":"normal","titlePadding":17,
"tickColor":"#999","tickSize":6,"tickWidth":1.5,"domainColor":"#999","domainWidth":1.5}}}},
{"data":{"values":[{"date":"2020-12-25","rate":0.0173}]},"mark":{"type":"point","filled":true,"shape":"circle","size":90,"color":"#4bacc6","opacity":1},
"encoding":{"y":{"field":"rate","type":"quantitative","scale":{"domain":[0,0.07],"nice":false},"axis":null}}},
{"data":{"values":[{"date":"2020-12-25","rate":0.0128}]},"mark":{"type":"point","filled":true,"shape":"triangle-up","size":130,"color":"#5bb5cf","opacity":1},
"encoding":{"y":{"field":"rate","type":"quantitative","scale":{"domain":[0,0.07],"nice":false},"axis":null}}},
{"data":{"name":"daily"},"mark":{"type":"line","color":"#ff0000","strokeWidth":2.8},
"encoding":{"y":{"field":"cases","type":"quantitative","scale":{"domain":[0,300000],"nice":false},
"axis":{"orient":"left","title":"Daily new cases and deaths","values":[0,50000,100000,150000,200000,250000,300000],
"labelExpr":"datum.value === 0 ? '' : format(datum.value, ',')",
"labelColor":"#222","labelFontSize":20,"labelPadding":10,"titleColor":"#222","titleFontSize":17,"titleFontWeight":"normal","titlePadding":2,
"tickColor":"#999","tickSize":6,"tickWidth":1.5,"domainColor":"#999","domainWidth":1.5}}}},
{"data":{"name":"daily"},"mark":{"type":"line","color":"#ff0000","strokeWidth":1.5,"strokeDash":[1.5,2.5]},
"encoding":{"y":{"field":"avg","type":"quantitative","scale":{"domain":[0,300000],"nice":false},"axis":null}}},
{"data":{"name":"daily"},"mark":{"type":"line","color":"#a6a6a6","strokeWidth":2.8},
"encoding":{"y":{"field":"deaths","type":"quantitative","scale":{"domain":[0,300000],"nice":false},"axis":null}}},
{"data":{"name":"leaders"},"mark":{"type":"line","color":"#bdbdbd","strokeWidth":1.5},
"encoding":{"y":{"field":"value","type":"quantitative","scale":{"domain":[0,300000],"nice":false},"axis":null},"detail":{"field":"id"},"order":{"field":"order","type":"quantitative"}}},
{"data":{"values":[{"id":"ma","order":1,"date":"2020-07-17","value":120280},{"id":"ma","order":2,"date":"2020-07-17","value":110695},{"id":"ma","order":3,"date":"2020-07-28","value":65314}]},
"mark":{"type":"line","color":"#d0d0d0","strokeWidth":1},
"encoding":{"y":{"field":"value","type":"quantitative","scale":{"domain":[0,300000],"nice":false},"axis":null},"detail":{"field":"id"},"order":{"field":"order","type":"quantitative"}}},
{"data":{"values":[{"date":"2020-07-28","avg":65314}]},"mark":{"type":"point","filled":true,"shape":"circle","size":60,"color":"#c0c0c0","opacity":1},
"encoding":{"y":{"field":"avg","type":"quantitative","scale":{"domain":[0,300000],"nice":false},"axis":null}}},
{"data":{"values":[{"date":"2020-12-25","cases":124498}]},"mark":{"type":"point","filled":true,"shape":"circle","size":90,"color":"#ff0000","opacity":1},
"encoding":{"y":{"field":"cases","type":"quantitative","scale":{"domain":[0,300000],"nice":false},"axis":null}}},
{"data":{"values":[{"date":"2020-12-25","deaths":1541}]},"mark":{"type":"point","filled":true,"shape":"circle","size":80,"color":"#a6a6a6","opacity":1},
"encoding":{"y":{"field":"deaths","type":"quantitative","scale":{"domain":[0,300000],"nice":false},"axis":null}}},
{"data":{"values":[{"date":"2020-01-18","value":266435,"text":"United States"}]},
"mark":{"type":"text","align":"left","baseline":"alphabetic","fontSize":27,"color":"#000"},
"encoding":{"y":{"field":"value","type":"quantitative","scale":{"domain":[0,300000],"nice":false},"axis":null},"text":{"field":"text"}}},
{"data":{"values":[{"date":"2020-01-18","value":249184,"text":"569.998 bp of population infected"},{"date":"2020-01-18","value":232412,"text":"9.886 bp of population fatalities"},{"date":"2020-01-18","value":215640,"text":"38.1 median population age"}]},
"mark":{"type":"text","align":"left","baseline":"alphabetic","fontSize":18,"color":"#222"},
"encoding":{"y":{"field":"value","type":"quantitative","scale":{"domain":[0,300000],"nice":false},"axis":null},"text":{"field":"text"}}},
{"data":{"values":[{"date":"2020-06-25","value":265956,"text":"As of Dec 25"}]},
"mark":{"type":"text","align":"left","baseline":"alphabetic","fontSize":15,"color":"#222"},
"encoding":{"y":{"field":"value","type":"quantitative","scale":{"domain":[0,300000],"nice":false},"axis":null},"text":{"field":"text"}}},
{"data":{"values":[{"date":"2020-07-13","value":113091,"text":"7-day moving average cases"}]},
"mark":{"type":"text","align":"right","baseline":"alphabetic","fontSize":14,"color":"#ff0000"},
"encoding":{"y":{"field":"value","type":"quantitative","scale":{"domain":[0,300000],"nice":false},"axis":null},"text":{"field":"text"}}},
{"data":{"values":[{"date":"2020-09-16T12:00:00Z","value":210369,"text":"18,565,927 cases cumulative"},{"date":"2020-09-16T12:00:00Z","value":198868,"text":"+124,498 cases today"},{"date":"2020-09-15T08:00:00Z","value":95361,"text":"321,992 deaths cumulative"},{"date":"2020-09-15T08:00:00Z","value":83381,"text":"+1,541 deaths today"}]},
"mark":{"type":"text","align":"center","baseline":"alphabetic","fontSize":17,"color":"#222"},
"encoding":{"y":{"field":"value","type":"quantitative","scale":{"domain":[0,300000],"nice":false},"axis":null},"text":{"field":"text"}}},
{"data":{"values":[{"date":"2020-10-21","value":164845,"text":"Cume fatality rate 1.73%"},{"date":"2020-10-17T18:00:00Z","value":133697,"text":"2-week fatality rate 1.28%"}]},
"mark":{"type":"text","align":"right","baseline":"alphabetic","fontSize":17,"color":"#222"},
"encoding":{"y":{"field":"value","type":"quantitative","scale":{"domain":[0,300000],"nice":false},"axis":null},"text":{"field":"text"}}}
],
"resolve":{"scale":{"y":"independent"}}
}
